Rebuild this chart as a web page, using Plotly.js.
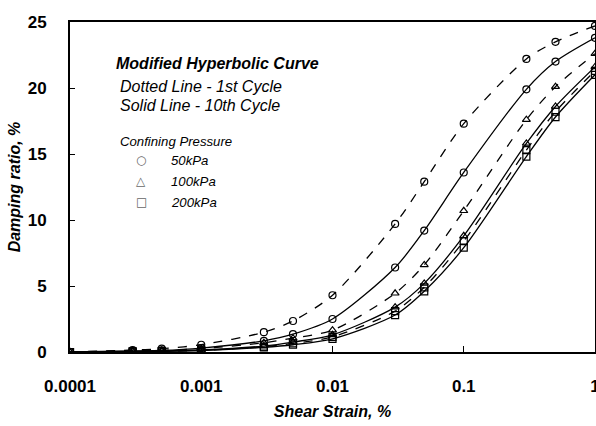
<!DOCTYPE html>
<html>
<head>
<meta charset="utf-8">
<script src="https://cdn.plot.ly/plotly-3.0.1.min.js"></script>
<style>html,body{margin:0;padding:0;background:#fff;}#chart{width:596px;height:426px;}</style>
</head>
<body>
<div id="chart"></div>
<script>
// Shear strain (%) at which the curves are marked
const strain = [0.0001, 0.0003, 0.0005, 0.001, 0.003, 0.005, 0.01, 0.03, 0.05, 0.1, 0.3, 0.5, 1];

// Damping ratio (%) - 1st cycle (dotted) and 10th cycle (solid)
const d50_1st   = [0, 0.15, 0.25, 0.55, 1.5, 2.35, 4.3, 9.7, 12.9, 17.3, 22.2, 23.5, 24.7];
const d50_10th  = [0, 0.08, 0.12, 0.3, 0.85, 1.35, 2.5, 6.4, 9.2, 13.6, 19.9, 22.0, 23.8];
const d100_1st  = [0, 0.08, 0.12, 0.25, 0.7, 1.05, 1.65, 4.45, 6.6, 10.7, 17.6, 20.1, 22.6];
const d100_10th = [0, 0.05, 0.07, 0.15, 0.45, 0.75, 1.3, 3.4, 5.2, 8.8, 15.8, 18.6, 21.6];
const d200_1st  = [0, 0.04, 0.06, 0.12, 0.4, 0.65, 1.15, 3.1, 4.9, 8.4, 15.3, 18.2, 21.3];
const d200_10th = [0, 0.03, 0.05, 0.1, 0.35, 0.55, 1.0, 2.8, 4.6, 7.9, 14.8, 17.8, 21.0];

const xTickVals = [0.0001, 0.001, 0.01, 0.1, 1];
const xTickText = ['0.0001', '0.001', '0.01', '0.1', '1'];
const yTickVals = [0, 5, 10, 15, 20, 25];

const seriesDefs = [
  {y: d50_1st,   sym: 'circle-open',        dash: 'dash',  name: '50kPa 1st'},
  {y: d50_10th,  sym: 'circle-open',        dash: 'solid', name: '50kPa 10th'},
  {y: d100_1st,  sym: 'triangle-up-open',   dash: 'dash',  name: '100kPa 1st'},
  {y: d100_10th, sym: 'triangle-up-open',   dash: 'solid', name: '100kPa 10th'},
  {y: d200_1st,  sym: 'square-open',        dash: 'dash',  name: '200kPa 1st'},
  {y: d200_10th, sym: 'square-open',        dash: 'solid', name: '200kPa 10th'}
];

const traces = seriesDefs.map(s => ({
  x: strain, y: s.y, name: s.name, type: 'scatter', mode: 'lines+markers',
  line: {color: '#000', width: 1.3, dash: s.dash, shape: 'spline', smoothing: 0.8},
  marker: {symbol: s.sym, size: 7, color: '#000', line: {color: '#000', width: 1.2}},
  showlegend: false, cliponaxis: true
}));

const numFont = {family: 'Liberation Sans Narrow, Arial Narrow, Liberation Sans, Arial, sans-serif', size: 17, color: '#000', weight: 'bold'};
const txt = 'Liberation Sans, Arial, sans-serif';
const symFont = 'DejaVu Sans, sans-serif';

function px(x) { return (x - 70) / 526; }
function py(y) { return (352 - y) / 330; }

const annotations = [
  {text: '<b><i>Modified Hyperbolic Curve</i></b>', x: px(114), y: py(63), size: 16},
  {text: '<i>Dotted Line - 1st Cycle</i>', x: px(118), y: py(86), size: 16},
  {text: '<i>Solid Line - 10th Cycle</i>', x: px(118), y: py(106), size: 16},
  {text: '<i>Confining Pressure</i>', x: px(118), y: py(141), size: 13.2},
  {text: '<i>50kPa</i>', x: px(169), y: py(160), size: 13.2},
  {text: '<i>100kPa</i>', x: px(169), y: py(181), size: 13.2},
  {text: '<i>200kPa</i>', x: px(169), y: py(202), size: 13.2},
  {text: '○', x: px(134), y: py(160), size: 12, color: '#666', fam: symFont},
  {text: '△', x: px(134), y: py(181), size: 12, color: '#666', fam: symFont},
  {text: '□', x: px(134), y: py(202), size: 12, color: '#666', fam: symFont}
].map(a => ({
  text: a.text, x: a.x, y: a.y, xref: 'paper', yref: 'paper',
  xanchor: 'left', yanchor: 'middle', showarrow: false,
  font: {family: a.fam || txt, size: a.size, color: a.color || '#000'}
}));

const layout = {
  width: 596, height: 426,
  margin: {l: 70, r: 1, t: 22, b: 74},
  paper_bgcolor: '#fff', plot_bgcolor: '#fff',
  showlegend: false,
  xaxis: {
    type: 'log', range: [-4, 0], tickvals: xTickVals, ticktext: xTickText,
    ticks: 'inside', ticklen: 6, tickcolor: '#000', tickwidth: 1,
    showgrid: false, zeroline: false, showline: true, linecolor: '#000', linewidth: 2,
    mirror: true, tickfont: numFont, ticklabelstandoff: 18, ticklabeloverflow: 'allow',
    title: {text: '<b><i>Shear Strain, %</i></b>', font: {family: txt, size: 16, color: '#000'}, standoff: 10}
  },
  yaxis: {
    range: [0, 25], tickvals: yTickVals,
    ticks: 'inside', ticklen: 5, tickcolor: '#000', tickwidth: 1,
    showgrid: false, zeroline: false, showline: true, linecolor: '#000', linewidth: 2,
    mirror: true, tickfont: numFont, ticklabelstandoff: 18,
    title: {text: '<b><i>Damping ratio, %</i></b>', font: {family: txt, size: 16, color: '#000'}, standoff: 3}
  },
  annotations: annotations
};

Plotly.newPlot('chart', traces, layout, {displayModeBar: false, staticPlot: true});
</script>
</body>
</html>
